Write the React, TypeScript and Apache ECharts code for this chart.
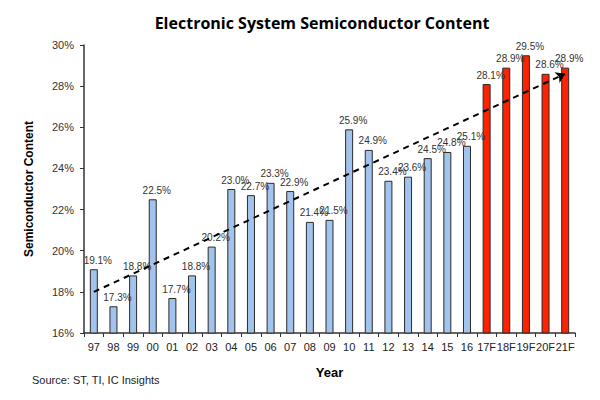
import React, { useEffect, useRef } from "react";
import * as echarts from "echarts";

const categories = ["97","98","99","00","01","02","03","04","05","06","07","08","09","10","11","12","13","14","15","16","17F","18F","19F","20F","21F"];
const values = [19.1,17.3,18.8,22.5,17.7,18.8,20.2,23.0,22.7,23.3,22.9,21.4,21.5,25.9,24.9,23.4,23.6,24.5,24.8,25.1,28.1,28.9,29.5,28.6,28.9];
const trendStart = 18.0;
const trendEnd = 28.6;
const yTicks = { min: 16, max: 30, interval: 2 };

const BLUE = "#a2c3ec";
const RED = "#ff2200";
const FONT = "'Liberation Sans', Arial, sans-serif";

export default function App() {
  const ref = useRef<HTMLDivElement>(null);
  useEffect(() => {
    if (!ref.current) return;
    const chart = echarts.init(ref.current, null, { renderer: "svg" });
    chart.setOption({
      animation: false,
      backgroundColor: "#ffffff",
      textStyle: { fontFamily: FONT },
      title: {
        text: "Electronic System Semiconductor Content",
        left: 317,
        top: 10,
        textAlign: "center",
        textStyle: { fontFamily: "'Open Sans', sans-serif", fontSize: 16, fontWeight: "bold", color: "#000" },
      },
      graphic: [
        {
          type: "text",
          left: 32,
          top: 374,
          style: { text: "Source: ST, TI, IC Insights", fontSize: 11, fontFamily: FONT, fill: "#222" },
        },
      ],
      grid: { left: 84, right: 25, top: 45, bottom: 67 },
      xAxis: {
        type: "category",
        data: categories,
        name: "Year",
        nameLocation: "middle",
        nameGap: 33,
        nameTextStyle: { fontFamily: FONT, fontSize: 13, fontWeight: "bold", color: "#000" },
        axisLine: { lineStyle: { color: "#333", width: 1.5 } },
        axisTick: { show: true, length: 4, lineStyle: { color: "#333" } },
        axisLabel: { fontSize: 11, color: "#222", margin: 8, interval: 0 },
      },
      yAxis: {
        type: "value",
        min: yTicks.min,
        max: yTicks.max,
        interval: yTicks.interval,
        name: "Semiconductor Content",
        nameLocation: "middle",
        nameGap: 49,
        nameTextStyle: { fontFamily: FONT, fontSize: 12, fontWeight: "bold", color: "#000" },
        axisLine: { show: true, lineStyle: { color: "#333", width: 1.5 } },
        axisTick: { show: true, length: 4, lineStyle: { color: "#333" } },
        splitLine: { show: false },
        axisLabel: { fontSize: 11, color: "#333", formatter: "{value}%", margin: 10 },
      },
      series: [
        {
          type: "bar",
          barWidth: 8,
          data: values.map((v, i) => ({
            value: v,
            itemStyle: {
              color: categories[i].endsWith("F") ? RED : BLUE,
              borderColor: "#2a2a2a",
              borderWidth: 1,
            },
          })),
          label: {
            show: true,
            position: "top",
            distance: 4,
            offset: [4, 0],
            fontSize: 10,
            color: "#333",
            formatter: (p: any) => p.value.toFixed(1) + "%",
          },
          markLine: {
            silent: true,
            symbol: ["none", "arrow"],
            symbolSize: 9,
            label: { show: false },
            lineStyle: { color: "#000", type: [6, 5], width: 2 },
            data: [
              [
                { coord: [categories[0], trendStart] },
                { coord: [categories[categories.length - 1], trendEnd] },
              ],
            ],
          },
        },
      ],
    });
    return () => chart.dispose();
  }, []);
  return <div ref={ref} style={{ position: "fixed", left: 0, top: 0, width: 600, height: 400 }} />;
}
